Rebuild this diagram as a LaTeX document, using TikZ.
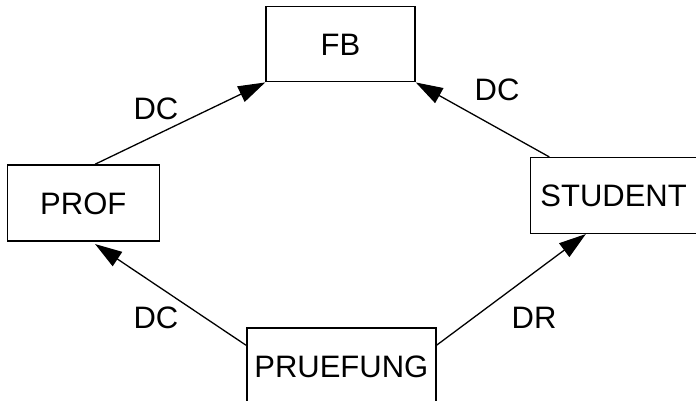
\documentclass[tikz,border=0pt]{standalone}
\usepackage{fontspec}
\setmainfont{Liberation Sans}
\usetikzlibrary{arrows.meta,calc}
\begin{document}
\begin{tikzpicture}[x=1pt,y=-1pt,
  ent/.style={draw=black, line width=1.5pt, inner sep=0pt, text height=22pt, text depth=0pt,
    font=\fontsize{31}{37}\selectfont},
  lbl/.style={inner sep=0pt, text height=22pt, text depth=0pt, font=\fontsize{31}{37}\selectfont},
  rel/.style={line width=1.3pt, -{Triangle[length=27pt,width=17pt]}}]
\useasboundingbox (0,0) rectangle (696,401);
\clip (0,0) rectangle (696,401);
\fill[white] (0,0) rectangle (696,401);
\node[ent, minimum width=149pt, minimum height=75pt] (fb) at (340.5,44.2) {FB};
\node[ent, minimum width=152pt, minimum height=76pt] (prof) at (83.3,203) {PROF};
\node[ent, minimum width=172pt, minimum height=75.6pt] (stud) at (616.6,195.5) {\hspace*{-6pt}STUDENT};
\node[ent, minimum width=189pt, minimum height=77pt] (pr) at (341.3,366.5) {PRUEFUNG};
\coordinate (t1) at ($(prof.south west)+(88.5,2.3)$);
\coordinate (t2) at ($(stud.south west)+(56,0)$);
\draw[rel] ($(prof.north west)+(88.5,0)$) -- (fb.south west);
\draw[rel] ($(stud.north west)+(19.5,0)$) -- (fb.south east);
\draw[rel] ($(pr.north west)+(0,18)$) -- (t1);
\draw[rel] ($(pr.north east)+(0,18)$) -- (t2);
\node[lbl] (l1) at (156,109) {DC};
\node[lbl] (l2) at (497,90) {DC};
\node[lbl] (l3) at (156,317) {DC};
\node[lbl] (l4) at (534,317) {DR};
\end{tikzpicture}
\end{document}
